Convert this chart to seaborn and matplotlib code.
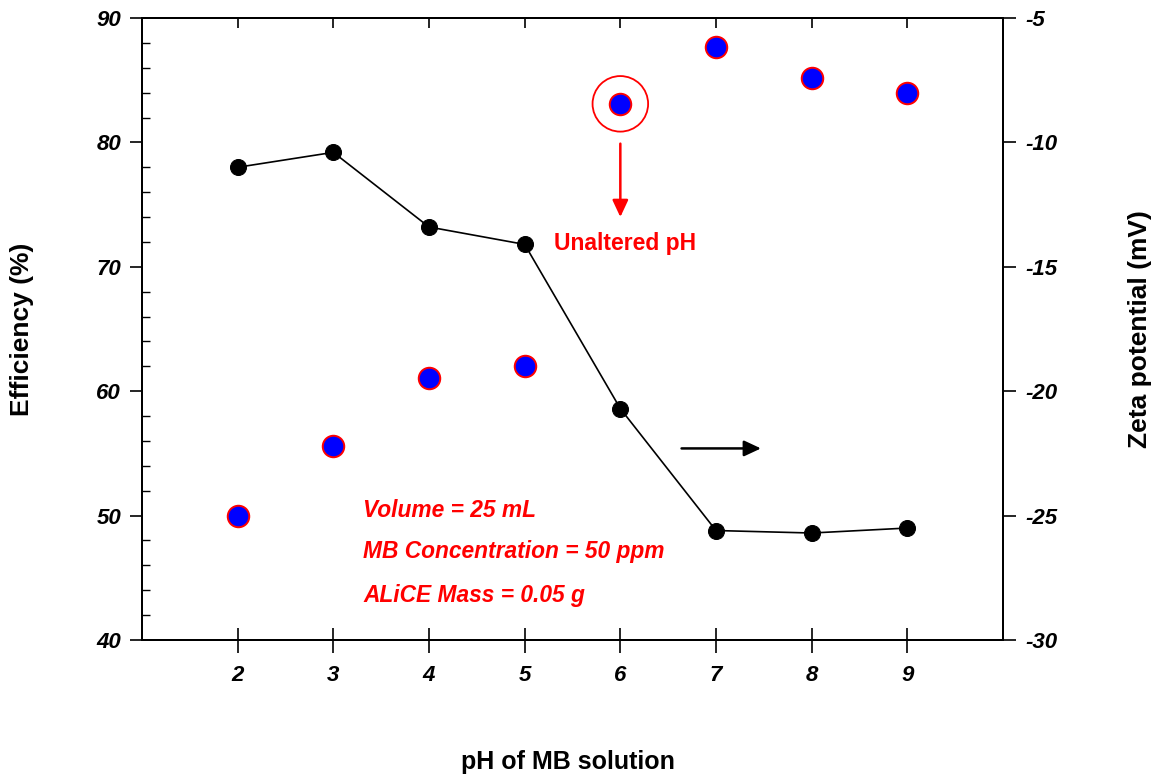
import matplotlib
matplotlib.use("Agg")
import matplotlib.pyplot as plt
from matplotlib.ticker import MultipleLocator
import seaborn as sns
import pandas as pd

# ---- data ----
ph = [2, 3, 4, 5, 6, 7, 8, 9]
efficiency = [50.0, 55.6, 61.1, 62.0, 83.1, 87.7, 85.2, 84.0]
zeta = [-11.0, -10.4, -13.4, -14.1, -20.7, -25.6, -25.7, -25.5]
xticks = [2, 3, 4, 5, 6, 7, 8, 9]
unaltered_ph = 6
notes = ["Volume = 25 mL", "MB Concentration = 50 ppm", "ALiCE Mass = 0.05 g"]

df = pd.DataFrame({"pH": ph, "Efficiency": efficiency, "Zeta": zeta})

sns.set_style("ticks")
plt.rcParams["font.family"] = ["Liberation Sans", "DejaVu Sans"]
plt.rcParams["axes.unicode_minus"] = False
plt.rcParams["text.color"] = "black"
plt.rcParams["axes.labelcolor"] = "black"
plt.rcParams["xtick.color"] = "black"
plt.rcParams["ytick.color"] = "black"

fig = plt.figure(figsize=(11.64, 7.82), dpi=100)
ax = fig.add_axes([142 / 1164, 1 - 640 / 782, 861 / 1164, 622 / 782])
ax2 = ax.twinx()

# efficiency (left axis)
sns.scatterplot(data=df, x="pH", y="Efficiency", ax=ax, s=240, color="#0000FF",
                edgecolor="red", linewidth=1.4, zorder=3, legend=False)
# ring around unaltered pH point
ring_y = efficiency[ph.index(unaltered_ph)]
ax.scatter([unaltered_ph], [ring_y], s=1600, facecolors="none", edgecolors="red",
           linewidths=1.3, zorder=2)

# zeta potential (right axis)
sns.lineplot(data=df, x="pH", y="Zeta", ax=ax2, color="black", lw=1.2,
             marker="o", markersize=11.5, markeredgecolor="black", legend=False)

ax.set_xlim(1, 10)
ax.set_ylim(40, 90)
ax2.set_ylim(-30, -5)
ax.set_xticks(xticks)
ax.yaxis.set_major_locator(MultipleLocator(10))
ax.yaxis.set_minor_locator(MultipleLocator(2))
ax2.yaxis.set_major_locator(MultipleLocator(5))

tick_font = dict(fontsize=16, fontweight="bold", fontstyle="italic", color="black")
ax.set_xticklabels([str(t) for t in xticks], **tick_font)
for lab in ax.get_yticklabels():
    lab.set(**tick_font)
for lab in ax2.get_yticklabels():
    lab.set(**tick_font)

ax.tick_params(axis="x", direction="inout", length=18, width=1.2, pad=9, colors="black")
ax.tick_params(axis="y", which="major", direction="out", length=9, width=1.2, pad=6,
               colors="black")
ax.tick_params(axis="y", which="minor", direction="in", length=6, width=1.0,
               colors="black")
ax2.tick_params(axis="y", which="major", direction="out", length=9, width=1.2, pad=7,
                colors="black")

secx = ax.secondary_xaxis("top")
secx.set_xticks(xticks)
secx.tick_params(direction="in", length=7, width=1.2, labeltop=False, colors="black")

for a in (ax, ax2):
    for sp in a.spines.values():
        sp.set_linewidth(1.4)
        sp.set_color("black")
        sp.set_visible(True)
for sp in secx.spines.values():
    sp.set_linewidth(1.4)
    sp.set_color("black")

ax.set_xlabel("pH of MB solution", va="center", fontsize=18, fontweight="bold",
              color="black")
ax.xaxis.set_label_coords(0.495, -0.196)
ax.set_ylabel("Efficiency (%)", va="center", fontsize=19, fontweight="bold",
              color="black")
ax.yaxis.set_label_coords(-0.139, 0.5)
ax2.set_ylabel("Zeta potential (mV)", va="center", rotation=90, fontsize=19,
               fontweight="bold", color="black")
ax2.yaxis.set_label_coords(1.159, 0.5)

# annotations
ax.annotate("", xy=(unaltered_ph, 74.0), xytext=(unaltered_ph, 79.9),
            arrowprops=dict(arrowstyle="-|>,head_length=0.6,head_width=0.28",
                            color="red", lw=1.8, mutation_scale=17,
                            shrinkA=0, shrinkB=0))
ax.text(6.05, 71.9, "Unaltered pH", color="red", fontsize=16.5, fontweight="bold",
        ha="center", va="center")
ax2.annotate("", xy=(7.47, -22.3), xytext=(6.64, -22.3),
             arrowprops=dict(arrowstyle="-|>,head_length=0.6,head_width=0.28",
                             color="black", lw=1.8, mutation_scale=17,
                             shrinkA=0, shrinkB=0))
for note, yv in zip(notes, [50.4, 47.1, 43.6]):
    ax.text(3.31, yv, note, color="red", fontsize=16.4, fontweight="bold",
            fontstyle="italic", ha="left", va="center")

fig.savefig("out.png", dpi=100)
